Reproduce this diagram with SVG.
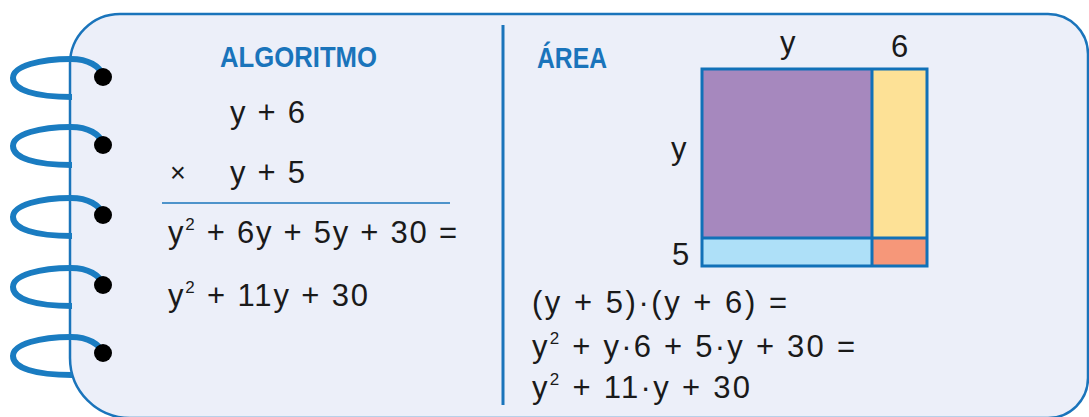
<svg xmlns="http://www.w3.org/2000/svg" width="1089" height="417" viewBox="0 0 1089 417">
<style>
.t{font-family:"Liberation Sans",Arial,sans-serif;font-size:31px;fill:#1a1a1a}
.h{font-family:"Liberation Sans",Arial,sans-serif;font-size:30px;font-weight:bold;fill:#1a74bb}
.sup{font-size:17px}
.ring{fill:none;stroke:#1a7cc1;stroke-width:6;stroke-linecap:butt}
.dot{fill:#000}
</style>
<rect width="1089" height="417" fill="#ffffff"/>
<g id="card">
<path d="M 1093 20 V 420" stroke="#c8c8cc" stroke-width="6" fill="none"/>
<path d="M 120 14 H 1048 A 40 40 0 0 1 1088 54 V 378 A 40 40 0 0 1 1048 418 H 130 A 60 60 0 0 1 70 358 V 64 A 50 50 0 0 1 120 14 Z" fill="#eceff9" stroke="#1a74bb" stroke-width="2.5"/>
</g>
<g id="rings">
<g id="ring1"><path class="ring" d="M 72 97 C 35 97 13 90 13 78 C 13 66 40 59 71 59 C 88 59 100 66 103 76"/><circle class="dot" cx="103" cy="77" r="9"/></g>
<g id="ring2"><path class="ring" d="M 72 165 C 35 165 13 158 13 146 C 13 134 40 127 71 127 C 88 127 100 134 103 144"/><circle class="dot" cx="103" cy="145" r="9"/></g>
<g id="ring3"><path class="ring" d="M 72 236 C 35 236 13 229 13 217 C 13 205 40 198 71 198 C 88 198 100 205 103 215"/><circle class="dot" cx="103" cy="215" r="9"/></g>
<g id="ring4"><path class="ring" d="M 72 306 C 35 306 13 299 13 287 C 13 275 40 268 71 268 C 88 268 100 275 103 285"/><circle class="dot" cx="103" cy="285" r="9"/></g>
<g id="ring5"><path class="ring" d="M 72 375 C 35 375 13 368 13 356 C 13 344 40 337 71 337 C 88 337 100 344 103 354"/><circle class="dot" cx="103" cy="353" r="9"/></g>
</g>
<g id="divider">
<line x1="503" y1="25" x2="503" y2="405" stroke="#1a74bb" stroke-width="3"/>
</g>
<g id="algoritmo">
<text class="h" x="220" y="67" textLength="157" lengthAdjust="spacingAndGlyphs">ALGORITMO</text>
<text class="t" x="230" y="123" textLength="75">y + 6</text>
<text class="t" x="170" y="182" style="font-size:27px">×</text>
<text class="t" x="230" y="183" textLength="75">y + 5</text>
<line x1="162" y1="203" x2="450" y2="203" stroke="#1a74bb" stroke-width="1.5"/>
<text class="t" x="168" y="243" textLength="289">y<tspan class="sup" dy="-13">2</tspan><tspan dy="13"> + 6y + 5y + 30 =</tspan></text>
<text class="t" x="168" y="306" textLength="200">y<tspan class="sup" dy="-13">2</tspan><tspan dy="13"> + 11y + 30</tspan></text>
</g>
<g id="area">
<text class="h" x="537" y="68" textLength="70" lengthAdjust="spacingAndGlyphs">ÁREA</text>
<rect x="702" y="69" width="170" height="169" fill="#a688be"/>
<rect x="872" y="69" width="55" height="169" fill="#fde196"/>
<rect x="702" y="238" width="170" height="28" fill="#aee0f8"/>
<rect x="872" y="238" width="55" height="28" fill="#f69779"/>
<g fill="none" stroke="#1171b8" stroke-width="3">
<rect x="702" y="69" width="225" height="197"/>
<line x1="872" y1="69" x2="872" y2="266"/>
<line x1="702" y1="238" x2="927" y2="238"/>
</g>
<text class="t" x="780" y="53">y</text>
<text class="t" x="891" y="57">6</text>
<text class="t" x="671" y="159">y</text>
<text class="t" x="672" y="265">5</text>
<text class="t" x="532" y="313" textLength="255">(y + 5)·(y + 6) =</text>
<text class="t" x="532" y="357" textLength="323">y<tspan class="sup" dy="-13">2</tspan><tspan dy="13"> + y·6 + 5·y + 30 =</tspan></text>
<text class="t" x="532" y="398" textLength="218">y<tspan class="sup" dy="-13">2</tspan><tspan dy="13"> + 11·y + 30</tspan></text>
</g>
</svg>
